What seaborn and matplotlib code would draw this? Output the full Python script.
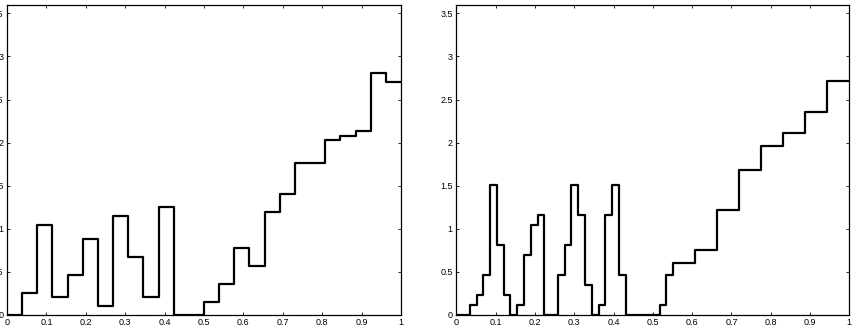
import numpy as np
import pandas as pd
import matplotlib
matplotlib.use("Agg")
import matplotlib.pyplot as plt
import seaborn as sns

# ---- data ----
left_edges = [0.0, 0.0385, 0.0769, 0.1154, 0.1538, 0.1923, 0.2308, 0.2692, 0.3077,
              0.3462, 0.3846, 0.4231, 0.4615, 0.5, 0.5385, 0.5769, 0.6154, 0.6538,
              0.6923, 0.7308, 0.7692, 0.8077, 0.8462, 0.8846, 0.9231, 0.9615, 1.0]
left_values = [0, 0.26, 1.04, 0.208, 0.468, 0.884, 0.104, 1.144, 0.676, 0.208, 1.248,
               0, 0, 0.156, 0.364, 0.78, 0.572, 1.196, 1.404, 1.768, 1.768, 2.028,
               2.08, 2.132, 2.808, 2.704]

right_edges = [0.0, 0.0172, 0.0345, 0.0517, 0.0690, 0.0862, 0.1034, 0.1207, 0.1379,
               0.1552, 0.1724, 0.1897, 0.2069, 0.2241, 0.2414, 0.2586, 0.2759, 0.2931,
               0.3103, 0.3276, 0.3448, 0.3621, 0.3793, 0.3966, 0.4138, 0.4310, 0.4483,
               0.4655, 0.4828, 0.5, 0.5172, 0.5345, 0.5517, 0.6078, 0.6638, 0.7198,
               0.7759, 0.8319, 0.8879, 0.9440, 1.0]
right_values = [0, 0, 0.116, 0.232, 0.464, 1.508, 0.812, 0.232, 0, 0.116, 0.696, 1.044,
                1.16, 0, 0, 0.464, 0.812, 1.508, 1.16, 0.348, 0, 0.116, 1.16, 1.508,
                0.464, 0, 0, 0, 0, 0, 0.116, 0.464,
                0.607, 0.750, 1.214, 1.678, 1.963, 2.106, 2.356, 2.713]

x_ticks = [0, 0.1, 0.2, 0.3, 0.4, 0.5, 0.6, 0.7, 0.8, 0.9, 1]
x_ticklabels = ["0", "0.1", "0.2", "0.3", "0.4", "0.5", "0.6", "0.7", "0.8", "0.9", "1"]
y_ticks = [0, 0.5, 1, 1.5, 2, 2.5, 3, 3.5]
y_ticklabels = ["0", "0.5", "1", "1.5", "2", "2.5", "3", "3.5"]

# ---- style ----
sns.set_style("ticks")
plt.rcParams["font.family"] = ["Liberation Sans", "DejaVu Sans"]
plt.rcParams.update({
    "xtick.direction": "in", "ytick.direction": "in",
    "xtick.top": True, "ytick.right": True,
    "xtick.major.size": 2.5, "ytick.major.size": 2.5,
    "xtick.major.width": 0.6, "ytick.major.width": 0.6,
    "axes.linewidth": 0.9, "axes.edgecolor": "black",
    "xtick.color": "black", "ytick.color": "black",
    "xtick.labelsize": 6.5, "ytick.labelsize": 6.5,
    "xtick.major.pad": 2.5, "ytick.major.pad": 2.5,
})

fig = plt.figure(figsize=(8.56, 3.34), dpi=100)
ax1 = fig.add_axes([7 / 856, 19 / 334, 394 / 856, 310.3 / 334])
ax2 = fig.add_axes([456.3 / 856, 19 / 334, 393 / 856, 310.3 / 334])

for ax, edges, vals in [(ax1, left_edges, left_values), (ax2, right_edges, right_values)]:
    e = np.array(edges)
    df = pd.DataFrame({"x": (e[:-1] + e[1:]) / 2, "w": vals})
    sns.histplot(data=df, x="x", weights="w", bins=edges, stat="count",
                 element="step", fill=False, color="black", linewidth=1.6, ax=ax)
    ax.set_xlim(0, 1)
    ax.set_ylim(0, 3.6)
    ax.set_xticks(x_ticks)
    ax.set_xticklabels(x_ticklabels)
    ax.set_yticks(y_ticks)
    ax.set_yticklabels(y_ticklabels)
    ax.set_xlabel("")
    ax.set_ylabel("")
    for s in ax.spines.values():
        s.set_visible(True)

fig.savefig("out.png", dpi=100)
